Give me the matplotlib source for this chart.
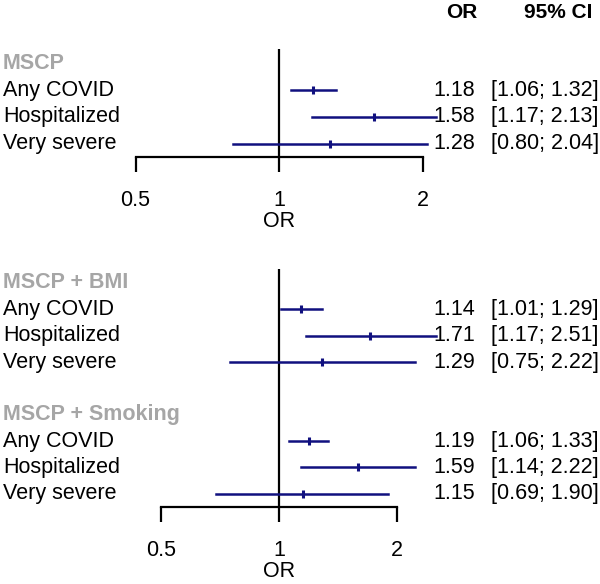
import matplotlib
matplotlib.use("Agg")
import matplotlib.pyplot as plt
import matplotlib.transforms as mtransforms
from matplotlib.ticker import NullLocator

plt.rcParams["font.family"] = ["Liberation Sans", "DejaVu Sans"]

# data
outcomes = ["Any COVID", "Hospitalized", "Very severe"]

mscp_or = [1.18, 1.58, 1.28]
mscp_lo = [1.06, 1.17, 0.80]
mscp_hi = [1.32, 2.13, 2.04]

bmi_or = [1.14, 1.71, 1.29]
bmi_lo = [1.01, 1.17, 0.75]
bmi_hi = [1.29, 2.51, 2.22]

smk_or = [1.19, 1.59, 1.15]
smk_lo = [1.06, 1.14, 0.69]
smk_hi = [1.33, 2.22, 1.90]

ticks = [0.5, 1, 2]
tick_labels = ["0.5", "1", "2"]

panels = [
    [("MSCP", mscp_or, mscp_lo, mscp_hi)],
    [("MSCP + BMI", bmi_or, bmi_lo, bmi_hi),
     ("MSCP + Smoking", smk_or, smk_lo, smk_hi)],
]

W, H = 600, 584
fig = plt.figure(figsize=(W / 100, H / 100), dpi=100)

# axes boxes in pixels: left, top, right, bottom
boxes = [(135.5, 48.6, 422.5, 157), (161, 268.5, 397, 507)]

navy = "#10107f"
gray = "#a6a6a6"
fs = 15.5


def px_rect(l, t, r, b):
    return [l / W, 1 - b / H, (r - l) / W, (b - t) / H]


for groups, box in zip(panels, boxes):
    ax = fig.add_axes(px_rect(*box))
    ax.set_xscale("log", base=2)
    ax.set_xlim(0.5, 2)
    nrows = len(groups) * (len(outcomes) + 1) + (len(groups) - 1)
    ax.set_ylim(nrows - 0.5, -0.55)
    for s in ["top", "right", "left"]:
        ax.spines[s].set_visible(False)
    ax.spines["bottom"].set_linewidth(1.6)
    ax.set_yticks([])
    ax.set_xticks(ticks)
    ax.set_xticklabels(tick_labels)
    ax.xaxis.set_minor_locator(NullLocator())
    ax.tick_params(axis="x", length=11, width=1.6, pad=13, labelsize=15.5)
    ax.set_xlabel("OR", fontsize=15.5, labelpad=0)
    ax.axvline(1, color="black", lw=1.6, zorder=1)

    trans = mtransforms.blended_transform_factory(fig.transFigure, ax.transData)
    for g, (name, est, lo, hi) in enumerate(groups):
        base = g * (len(outcomes) + 2)
        ax.text(3 / W, base, name, transform=trans, fontsize=fs,
                fontweight="bold", color=gray, va="center", ha="left")
        for i, lab in enumerate(outcomes):
            y = base + 1 + i
            ax.plot([lo[i], hi[i]], [y, y], color=navy, lw=1.8,
                    clip_on=False, zorder=2)
            ax.plot([est[i]], [y], marker="|", color=navy, ms=6, mew=2.2,
                    clip_on=False, zorder=3)
            ax.text(3 / W, y, lab, transform=trans, fontsize=fs,
                    va="center", ha="left")
            ax.text(475 / W, y, f"{est[i]:.2f}", transform=trans,
                    fontsize=15.5, va="center", ha="right")
            ax.text(491 / W, y, f"[{lo[i]:.2f}; {hi[i]:.2f}]",
                    transform=trans, fontsize=15.5, va="center", ha="left")

fig.text(477 / W, 1 - 12 / H, "OR", fontsize=15, fontweight="bold",
         ha="right", va="center")
fig.text(592 / W, 1 - 12 / H, "95% CI", fontsize=15, fontweight="bold",
         ha="right", va="center")

fig.savefig("out.png", dpi=100)
